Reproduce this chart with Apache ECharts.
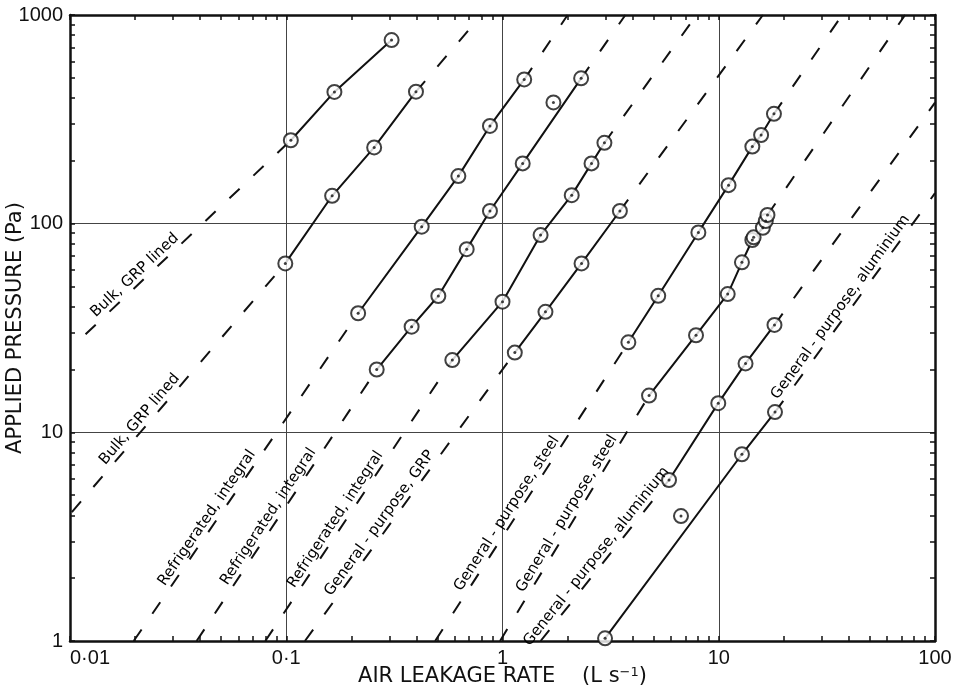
<!DOCTYPE html>
<html>
<head>
<meta charset="utf-8">
<script src="https://cdn.jsdelivr.net/npm/echarts@6.0.0/dist/echarts.min.js"></script>
<style>
  html, body { margin: 0; padding: 0; background: #fff; }
  #chart { width: 960px; height: 691px; }
</style>
</head>
<body>
<div id="chart"></div>
<script>
// Decade ticks and their printed labels
const xTickValues = [0.01, 0.1, 1, 10, 100];
const xTickLabels = ['0·01', '0·1', '1', '10', '100'];
const yTickValues = [1, 10, 100, 1000];
const yTickLabels = ['1', '10', '100', '1000'];

// Leakage tests: [air leakage rate (L/s), applied pressure (Pa)]
// *_pts  = measured points, *_fit = solid line through the test range,
// *_ext  = [lower end, upper end] of the dashed extrapolation (null = none)
const bulkA_pts = [[0.105, 251], [0.167, 428], [0.307, 758]];
const bulkA_fit = [[0.105, 251], [0.167, 428], [0.307, 758]];
const bulkA_ext = [[0.0118, 29.5], null];

const bulkB_pts = [[0.099, 64.5], [0.163, 136], [0.255, 232], [0.398, 429]];
const bulkB_fit = [[0.099, 64.5], [0.163, 136], [0.255, 232], [0.398, 429]];
const bulkB_ext = [[0.0102, 4.15], [0.80, 1000]];

const refA_pts = [[0.215, 37.2], [0.423, 96.7], [0.625, 169], [0.875, 294], [1.26, 491]];
const refA_fit = [[0.215, 37.2], [0.423, 96.7], [0.625, 169], [0.875, 294], [1.26, 491]];
const refA_ext = [[0.0197, 1], [2.0, 1000]];

const refB_pts = [[0.262, 20.0], [0.380, 32.1], [0.505, 45], [0.683, 75.5], [0.875, 115], [1.24, 194.5], [1.72, 381], [2.31, 497]];
const refB_fit = [[0.262, 20.0], [0.380, 32.1], [0.505, 45], [0.683, 75.5], [0.875, 115], [1.24, 194.5], [2.31, 497]];
const refB_ext = [[0.0385, 1], [3.7, 1000]];

const refC_pts = [[0.586, 22.2], [1.00, 42.3], [1.50, 88.2], [2.09, 137], [2.58, 194.5], [2.96, 244]];
const refC_fit = [[0.586, 22.2], [1.00, 42.3], [1.50, 88.2], [2.09, 137], [2.58, 194.5], [2.96, 244]];
const refC_ext = [[0.08, 1], [7.9, 1000]];

const gpGrp_pts = [[1.14, 24.1], [1.58, 37.8], [2.32, 64.5], [3.49, 115]];
const gpGrp_fit = [[1.14, 24.1], [1.58, 37.8], [2.32, 64.5], [3.49, 115]];
const gpGrp_ext = [[0.122, 1], [16.0, 1000]];

const gpSteelA_pts = [[3.82, 27.0], [5.25, 45.1], [8.05, 90.8], [11.1, 153], [14.3, 234], [15.7, 266], [18.0, 336]];
const gpSteelA_fit = [[3.82, 27.0], [5.25, 45.1], [8.05, 90.8], [11.1, 153], [14.3, 234], [15.7, 266], [18.0, 336]];
const gpSteelA_ext = [[0.488, 1], [37.2, 1000]];

const gpSteelB_pts = [[4.76, 15.0], [7.85, 29.2], [11.0, 46.0], [12.8, 65.3], [14.3, 83.5], [14.5, 86], [16.0, 95.6], [16.5, 103], [16.8, 110]];
const gpSteelB_fit = [[4.76, 15.0], [7.85, 29.2], [11.0, 46.0], [12.8, 65.3], [14.3, 83.5], [16.0, 95.6], [16.8, 110]];
const gpSteelB_ext = [[0.974, 1], [72.7, 1000]];

const gpAlA_pts = [[5.89, 5.91], [9.95, 13.8], [13.3, 21.4], [18.1, 32.7]];
const gpAlA_fit = [[5.89, 5.91], [9.95, 13.8], [13.3, 21.4], [18.1, 32.7]];
const gpAlA_ext = [[1.5, 1], [100, 380]];

const gpAlB_pts = [[2.98, 1.03], [6.69, 3.97], [12.8, 7.85], [18.2, 12.5]];
const gpAlB_fit = [[2.98, 1.03], [12.8, 7.85], [18.2, 12.5]];
const gpAlB_ext = [null, [100, 140]];

const curves = [
  { pts: bulkA_pts, fit: bulkA_fit, ext: bulkA_ext },
  { pts: bulkB_pts, fit: bulkB_fit, ext: bulkB_ext },
  { pts: refA_pts, fit: refA_fit, ext: refA_ext },
  { pts: refB_pts, fit: refB_fit, ext: refB_ext },
  { pts: refC_pts, fit: refC_fit, ext: refC_ext },
  { pts: gpGrp_pts, fit: gpGrp_fit, ext: gpGrp_ext },
  { pts: gpSteelA_pts, fit: gpSteelA_fit, ext: gpSteelA_ext },
  { pts: gpSteelB_pts, fit: gpSteelB_fit, ext: gpSteelB_ext },
  { pts: gpAlA_pts, fit: gpAlA_fit, ext: gpAlA_ext },
  { pts: gpAlB_pts, fit: gpAlB_fit, ext: gpAlB_ext }
];

// Captions written along the dashed parts: which curve, which dashed end,
// and how far along that dashed segment (0..1) the caption sits
const lineLabels = [
  { text: 'Bulk, GRP lined', curve: 0, end: 'lo', t: 0.27 },
  { text: 'Bulk, GRP lined', curve: 1, end: 'lo', t: 0.35 },
  { text: 'Refrigerated, integral', curve: 2, end: 'lo', t: 0.36 },
  { text: 'Refrigerated, integral', curve: 3, end: 'lo', t: 0.44 },
  { text: 'Refrigerated, integral', curve: 4, end: 'lo', t: 0.415 },
  { text: 'General - purpose, GRP', curve: 5, end: 'lo', t: 0.39 },
  { text: 'General - purpose, steel', curve: 6, end: 'lo', t: 0.41 },
  { text: 'General - purpose, steel', curve: 7, end: 'lo', t: 0.50 },
  { text: 'General - purpose, aluminium', curve: 8, end: 'lo', t: 0.49 },
  { text: 'General - purpose, aluminium', curve: 9, end: 'hi', t: 0.455 }
];

const INK = '#111';
const TICK_FONT = '"Liberation Sans", Arial, sans-serif';
const LETTER_FONT = '"DejaVu Sans", sans-serif';
const CAPTION_GAP = 9; // px between a dashed line and its caption centre

function labelFor(values, labels) {
  return function (v) {
    const lv = Math.log10(v);
    let best = 0;
    for (let i = 1; i < values.length; i++) {
      if (Math.abs(Math.log10(values[i]) - lv) < Math.abs(Math.log10(values[best]) - lv)) best = i;
    }
    return labels[best];
  };
}

function frameAxis(position, min, max, extra) {
  return Object.assign({
    type: 'log',
    logBase: 10,
    min: min,
    max: max,
    position: position,
    axisLine: { show: true, onZero: false, lineStyle: { color: INK, width: 2.5 } },
    axisTick: { show: true, inside: true, length: 5, lineStyle: { color: INK, width: 1.5 } },
    minorTick: { show: true, splitNumber: 9, length: 5, lineStyle: { color: INK, width: 1.5 } },
    splitLine: { show: false },
    minorSplitLine: { show: false },
    axisLabel: { show: false }
  }, extra || {});
}

function segmentOf(label) {
  const c = curves[label.curve];
  return label.end === 'lo'
    ? [c.ext[0], c.fit[0]]
    : [c.fit[c.fit.length - 1], c.ext[1]];
}

const series = [];
curves.forEach(function (c) {
  series.push({
    type: 'line', data: c.fit, symbol: 'none', z: 3,
    lineStyle: { color: INK, width: 2 }
  });
  if (c.ext[0]) {
    series.push({
      type: 'line', data: [c.ext[0], c.fit[0]], symbol: 'none', z: 2,
      lineStyle: { color: INK, width: 2, type: [14, 19] }
    });
  }
  if (c.ext[1]) {
    series.push({
      type: 'line', data: [c.fit[c.fit.length - 1], c.ext[1]], symbol: 'none', z: 2,
      lineStyle: { color: INK, width: 2, type: [14, 19] }
    });
  }
});

const allPoints = [].concat.apply([], curves.map(function (c) { return c.pts; }));

// Open circles with a centre dot for each measured point
series.push({
  type: 'scatter', data: allPoints, symbol: 'circle', symbolSize: 14, z: 5,
  itemStyle: { color: '#fff', borderColor: INK, borderWidth: 2 }
});
series.push({
  type: 'scatter', data: allPoints, symbol: 'circle', symbolSize: 3, z: 6,
  itemStyle: { color: INK }
});

const option = {
  animation: false,
  backgroundColor: '#fff',
  grid: { left: 70, right: 25, top: 15, bottom: 50, containLabel: false, outerBoundsMode: 'none' },
  xAxis: [
    frameAxis('bottom', 0.01, 100, {
      splitLine: { show: true, lineStyle: { color: '#444', width: 1 } },
      axisLabel: {
        show: true, margin: 7, color: INK, fontSize: 20, fontFamily: TICK_FONT,
        formatter: labelFor(xTickValues, xTickLabels),
        showMinLabel: true, showMaxLabel: true, alignMinLabel: 'left'
      },
      name: 'AIR LEAKAGE RATE    (L s{sup|−1})',
      nameLocation: 'middle',
      nameGap: 25,
      nameMoveOverlap: false,
      nameTextStyle: {
        color: INK, fontSize: 21, fontFamily: LETTER_FONT,
        rich: { sup: { fontSize: 13, fontFamily: LETTER_FONT, color: INK, verticalAlign: 'top' } }
      }
    }),
    frameAxis('top', 0.01, 100)
  ],
  yAxis: [
    frameAxis('left', 1, 1000, {
      splitLine: { show: true, lineStyle: { color: '#444', width: 1 } },
      axisLabel: {
        show: true, margin: 7, color: INK, fontSize: 20, fontFamily: TICK_FONT,
        formatter: labelFor(yTickValues, yTickLabels),
        showMinLabel: true, showMaxLabel: true
      },
      name: 'APPLIED PRESSURE (Pa)',
      nameLocation: 'middle',
      nameGap: 44,
      nameMoveOverlap: false,
      nameTextStyle: { color: INK, fontSize: 21, fontFamily: LETTER_FONT }
    }),
    frameAxis('right', 1, 1000)
  ],
  series: series
};

const chart = echarts.init(document.getElementById('chart'));
chart.setOption(option);

// Place each caption along its dashed segment, parallel to it and just above it
const finder = { xAxisIndex: 0, yAxisIndex: 0 };
const captionData = lineLabels.map(function (l) {
  const seg = segmentOf(l);
  const pa = chart.convertToPixel(finder, seg[0]);
  const pb = chart.convertToPixel(finder, seg[1]);
  const ang = Math.atan2(pa[1] - pb[1], pb[0] - pa[0]);
  const lx = Math.log10(seg[0][0]) + l.t * (Math.log10(seg[1][0]) - Math.log10(seg[0][0]));
  const ly = Math.log10(seg[0][1]) + l.t * (Math.log10(seg[1][1]) - Math.log10(seg[0][1]));
  return {
    name: l.text,
    value: [Math.pow(10, lx), Math.pow(10, ly)],
    // the offset turns with the caption, so [0, -gap] lifts it off the line
    label: { rotate: ang * 180 / Math.PI, offset: [0, -CAPTION_GAP] }
  };
});

series.push({
  type: 'scatter', symbolSize: 0, z: 7, silent: true,
  itemStyle: { color: INK, opacity: 1 },
  data: captionData,
  label: {
    show: true, position: 'inside', formatter: '{b}',
    color: '#000', fontSize: 15, fontFamily: LETTER_FONT,
    textBorderWidth: 0
  }
});
chart.setOption({ series: series });
</script>
</body>
</html>
